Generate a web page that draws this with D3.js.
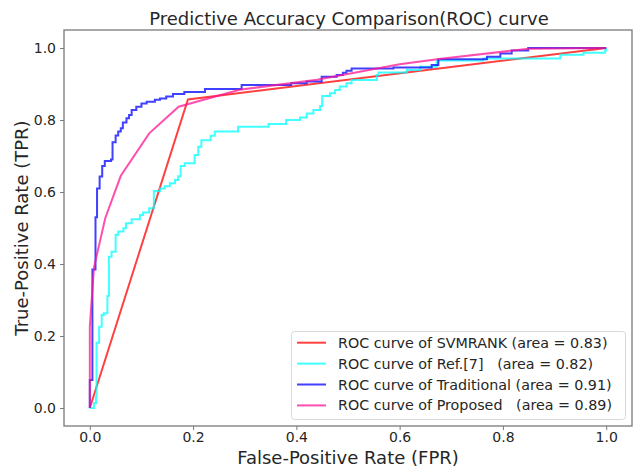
<!DOCTYPE html>
<html><head><meta charset="utf-8">
<script src="https://cdn.jsdelivr.net/npm/d3@7/dist/d3.min.js"></script>
<style>
html,body{margin:0;padding:0;background:#fff;}
svg text{font-family:"DejaVu Sans",sans-serif;fill:#262626;white-space:pre;}
</style></head>
<body><svg id="c" width="641" height="467"></svg>
<script>
const titleText = "Predictive Accuracy Comparison(ROC) curve";
const xLabel = "False-Positive Rate (FPR)";
const yLabel = "True-Positive Rate (TPR)";
const tickValues = [0, 0.2, 0.4, 0.6, 0.8, 1.0];
const seriesNames = ["ROC curve of SVMRANK (area = 0.83)", "ROC curve of Ref.[7]   (area = 0.82)", "ROC curve of Traditional (area = 0.91)", "ROC curve of Proposed   (area = 0.89)"];
const seriesColors = ["#ff0000", "#00ffff", "#0000ff", "#ff1493"];

const svmrank = [[0,0],[0.19,0.857],[1,1]];
const ref7 = [[0,0],[0.008,0.014],[0.012,0.031],[0.013,0.181],[0.018,0.226],[0.023,0.258],[0.027,0.263],[0.034,0.311],[0.037,0.42],[0.042,0.434],[0.050,0.481],[0.055,0.49],[0.065,0.499],[0.070,0.513],[0.081,0.524],[0.097,0.536],[0.103,0.543],[0.115,0.555],[0.124,0.603],[0.136,0.61],[0.145,0.616],[0.155,0.624],[0.165,0.633],[0.171,0.644],[0.176,0.672],[0.184,0.68],[0.203,0.703],[0.21,0.726],[0.216,0.744],[0.234,0.756],[0.242,0.768],[0.287,0.781],[0.346,0.789],[0.38,0.8],[0.407,0.807],[0.42,0.818],[0.433,0.828],[0.446,0.839],[0.450,0.867],[0.465,0.874],[0.475,0.883],[0.484,0.893],[0.497,0.902],[0.507,0.911],[0.556,0.925],[0.559,0.932],[0.614,0.939],[0.640,0.948],[0.672,0.965],[0.762,0.971],[0.911,0.981],[0.956,0.987],[0.998,0.994],[1,1]];
const traditional = [[0,0],[0,0.078],[0.005,0.385],[0.011,0.53],[0.014,0.61],[0.019,0.643],[0.024,0.672],[0.029,0.686],[0.041,0.69],[0.044,0.738],[0.05,0.757],[0.055,0.768],[0.06,0.777],[0.064,0.793],[0.071,0.805],[0.076,0.814],[0.081,0.828],[0.090,0.837],[0.1,0.846],[0.11,0.851],[0.126,0.856],[0.136,0.86],[0.148,0.865],[0.161,0.872],[0.183,0.878],[0.223,0.886],[0.294,0.897],[0.39,0.902],[0.42,0.907],[0.449,0.920],[0.478,0.925],[0.49,0.931],[0.497,0.937],[0.507,0.943],[0.588,0.946],[0.662,0.953],[0.675,0.969],[0.769,0.976],[0.795,0.985],[0.817,0.993],[0.849,1.0],[1,1]];
const proposed = [[0,0],[0,0.226],[0.008,0.39],[0.03,0.528],[0.06,0.645],[0.115,0.763],[0.172,0.837],[0.29,0.884],[0.44,0.912],[0.6,0.955],[0.68,0.97],[0.85,0.998],[1,1]];

const seriesData = [svmrank, ref7, traditional, proposed];
const seriesStep = [false, true, true, false];

const svg = d3.select("#c");
const L = 64, R = 632, T = 30, B = 426;
const x = d3.scaleLinear().domain([-0.05, 1.05]).range([L, R]);
const y = d3.scaleLinear().domain([-0.05, 1.05]).range([B, T]);

const g = svg.append("g");
seriesData.forEach((d, i) => {
  const line = d3.line().x(p => x(p[0])).y(p => y(p[1]))
    .curve(seriesStep[i] ? d3.curveStepAfter : d3.curveLinear);
  g.append("path").attr("d", line(d)).attr("fill", "none")
    .attr("stroke", seriesColors[i]).attr("stroke-opacity", 0.75)
    .attr("stroke-width", 2).attr("stroke-linejoin", "miter");
});

// frame
svg.append("rect").attr("x", L).attr("y", T).attr("width", R - L).attr("height", B - T)
  .attr("fill", "none").attr("stroke", "#7a7a7a").attr("stroke-width", 1.3);

const xAxis = d3.axisBottom(x).tickValues(tickValues).tickFormat(d3.format(".1f")).tickSize(4).tickPadding(2);
const ax = svg.append("g").attr("transform", `translate(0,${B})`).call(xAxis);
const yAxis = d3.axisLeft(y).tickValues(tickValues).tickFormat(d3.format(".1f")).tickSize(4).tickPadding(4);
const ay = svg.append("g").attr("transform", `translate(${L},0)`).call(yAxis);
[ax, ay].forEach(a => {
  a.select(".domain").remove();
  a.selectAll(".tick line").attr("stroke", "#7a7a7a").attr("stroke-width", 1);
  a.selectAll(".tick text").attr("font-size", 14).attr("fill", "#262626").style("font-family", "DejaVu Sans");
});

svg.append("text").attr("x", 349).attr("y", 25).attr("text-anchor", "middle")
  .attr("font-size", 18).text(titleText);
svg.append("text").attr("x", 348).attr("y", 464).attr("text-anchor", "middle")
  .attr("font-size", 18).text(xLabel);
svg.append("text").attr("transform", "translate(28,228) rotate(-90)").attr("text-anchor", "middle")
  .attr("font-size", 18).text(yLabel);

// legend
const lg = svg.append("g");
lg.append("rect").attr("x", 291.5).attr("y", 331.5).attr("width", 334).attr("height", 88)
  .attr("rx", 3).attr("fill", "#fff").attr("fill-opacity", 0.85)
  .attr("stroke", "#d9d9d9").attr("stroke-width", 1);
seriesNames.forEach((n, i) => {
  const yy = 342.7 + i * 20.9;
  lg.append("line").attr("x1", 297).attr("x2", 326).attr("y1", yy).attr("y2", yy)
    .attr("stroke", seriesColors[i]).attr("stroke-opacity", 0.75).attr("stroke-width", 2);
  lg.append("text").attr("x", 338).attr("y", yy + 5).attr("font-size", 14.3).text(n);
});
</script></body></html>
